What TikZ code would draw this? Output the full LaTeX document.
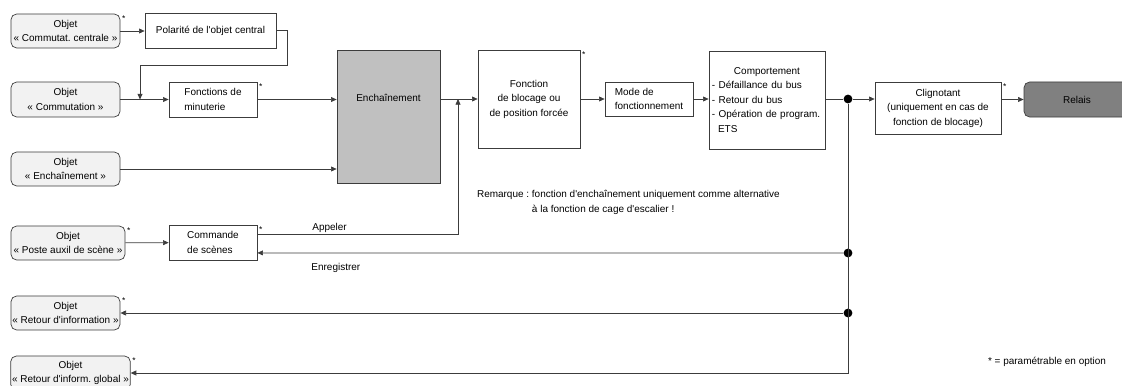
\documentclass[tikz,border=0pt]{standalone}
\usepackage{fontspec}
\setmainfont{Liberation Sans}
\usetikzlibrary{arrows.meta, positioning, calc}
\definecolor{cObj}{RGB}{242,242,242}
\definecolor{cEnch}{RGB}{192,192,192}
\definecolor{cRelais}{RGB}{128,128,128}
\definecolor{cLine}{RGB}{60,60,60}
\frenchspacing

\begin{document}
\begin{tikzpicture}[x=0.025cm, y=-0.025cm, line width=0.5pt,
            every node/.style={font=\fontsize{7.1}{10.3}\selectfont},
            box/.style={rectangle, draw=cLine, fill=white, align=center, inner sep=1pt},
            obj/.style={box, rounded corners=4pt, fill=cObj},
            opt/.style={label={[anchor=north west, inner sep=1pt, font=\fontsize{6}{6}\selectfont]north east:*}},
            pt/.style={circle, fill=black, inner sep=0pt, minimum size=2.2mm},
            fl/.style={draw=cLine, -{Triangle[length=4pt, width=3.5pt]}},
            ln/.style={draw=cLine}]
            \useasboundingbox (0,0) rectangle (1122,386);
            % inputs
            \node[obj, opt, minimum width=2.725cm, minimum height=0.85cm]  (oCC)   at (65.5,31)   {Objet\\« Commutat. centrale »};
            \node[obj, minimum width=2.725cm, minimum height=0.875cm]      (oCom)  at (65.5,99.5) {Objet\\« Commutation »};
            \node[obj, minimum width=2.725cm, minimum height=0.85cm]       (oEnch) at (65.5,169)  {Objet\\« Enchaînement »};
            \node[obj, opt, minimum width=2.85cm, minimum height=0.85cm]   (oPoste) at (68,243)   {Objet\\« Poste auxil de scène »};
            \node[obj, opt, minimum width=2.725cm, minimum height=0.85cm]  (oRet)  at (65.5,313)  {Objet\\« Retour d\textquotesingle information »};
            \node[obj, opt, minimum width=2.975cm, minimum height=0.85cm]  (oGlob) at (70.5,373)  {Objet\\« Retour d\textquotesingle inform. global »};
            % function blocks
            \node[box, minimum width=3.275cm, minimum height=0.875cm]      (polar) at (210.5,30.5) {Polarité de l\textquotesingle objet central};
            \node[box, opt, align=left, minimum width=2.2cm, minimum height=0.875cm] (minut) at (213,99.5) {Fonctions de\\minuterie};
            \node[box, opt, align=left, minimum width=2.2cm, minimum height=0.875cm] (scene) at (213,242.5) {Commande\\de scènes};
            \node[box, fill=cEnch, minimum width=2.575cm, minimum height=3.325cm,
                  label={[yshift=0.475cm]center:Enchaînement}]            (ench)  at (388.5,116.5) {};
            \node[box, opt, minimum width=2.55cm, minimum height=2.45cm]   (bloc)  at (529,99)    {Fonction\\de blocage ou\\de position forcée};
            \node[box, align=left, minimum width=2.2cm, minimum height=0.85cm] (mode) at (649,99) {Mode de\\fonctionnement};
            \node[box, align=left, text width=2.75cm, inner xsep=0.075cm, minimum height=2.45cm] (comport) at (767,100)
                 {\makebox[2.75cm]{Comportement}\\- Défaillance du bus\\- Retour du bus\\- Opération de program.\\\hspace*{0.15cm}ETS};
            \node[box, opt, minimum width=3.15cm, minimum height=1.3cm]    (cligno) at (938,108)  {Clignotant\\(uniquement en cas de\\fonction de blocage)};
            \node[obj, fill=cRelais, minimum width=2.65cm, minimum height=0.875cm] (relais) at (1077,99.5) {Relais};
            % junctions
            \node[pt] (d1) at (848,99) {};
            \node[pt] (d2) at (848,253) {};
            \node[pt] (d3) at (848,313) {};
            \coordinate (j1) at (140,99.5);
            \coordinate (ap) at (458,99);
            % connections
            \draw[fl] (oCC.east) -- (oCC.east -| polar.west);
            \draw[fl] (polar.east) -- ++(11,0) |- (140,65) -- (j1);
            \draw[fl] (oCom) -- (minut);
            \draw[fl] (minut.east) -- (minut.east -| ench.west);
            \draw[fl] (oEnch.east) -- (oEnch.east -| ench.west);
            \draw[fl] (ench.east |- bloc.west) -- (bloc.west);
            \draw[fl] (bloc) -- (mode);
            \draw[fl] (mode.east) -- (mode.east -| comport.west);
            \draw[ln] (comport.east |- d1) -- (d1);
            \draw[fl] (d1) -- (d1 -| cligno.west);
            \draw[fl] (cligno.east |- relais.west) -- (relais.west);
            \draw[fl] (oPoste) -- (scene);
            \draw[fl] ([yshift=0.21cm]scene.east) -| node[pos=0.18, above, inner sep=1pt] {Appeler} (ap);
            \draw[fl] (d2) -- ([yshift=-0.26cm]scene.east) node[pos=0.866, below=4pt] {Enregistrer};
            \draw[fl] (d3) -- (oRet.east);
            \draw[fl] (d1) |- (oGlob.east);
            % notes
            \node[align=left, anchor=west] (rem) at (472,202.5)
                 {Remarque : fonction d\textquotesingle enchaînement uniquement comme alternative\\\hphantom{Remarque : }à la fonction de cage d\textquotesingle escalier !};
            \node[anchor=east] (leg) at (1111,362) {* = paramétrable en option};
        \end{tikzpicture}
\end{document}
